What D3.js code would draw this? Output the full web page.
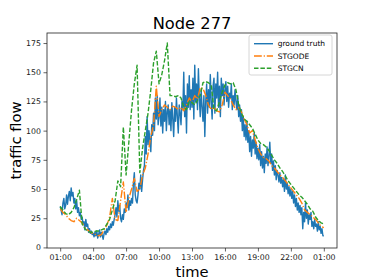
<!DOCTYPE html>
<html>
<head>
<meta charset="utf-8">
<script src="https://cdn.jsdelivr.net/npm/d3@7"></script>
<style>
  body { margin: 0; background: #fff; }
  svg { display: block; font-family: "DejaVu Sans", sans-serif; }
</style>
</head>
<body>
<div id="chart"></div>
<script>
// hours after 01:00, ground truth every 5 min, models every 15 min
var gtStep = 5 / 60, modelStep = 0.25;

var groundTruth = [
  35, 32, 28, 38, 42, 33, 36, 45, 37, 44, 48, 40,
  51, 44, 47, 38, 42, 33, 40, 30, 34, 27, 30, 24,
  26, 20, 22, 15, 24, 18, 20, 13, 16, 12, 14, 11,
  12, 9, 13, 10, 14, 8, 11, 15, 9, 13, 10, 7,
  12, 14, 11, 16, 13, 18, 15, 20, 17, 22, 19, 24,
  28, 34, 26, 40, 31, 36, 25, 22, 28, 24, 33, 30,
  38, 34, 45, 32, 40, 36, 42, 38, 55, 64, 45, 40,
  38, 45, 55, 50, 62, 48, 58, 66, 70, 95, 80, 112,
  88, 100, 92, 82, 105, 96, 115, 100, 128, 110, 130, 105,
  112, 128, 104, 120, 98, 118, 108, 125, 100, 116, 122, 105,
  118, 100, 124, 110, 95, 120, 108, 128, 112, 98, 122, 115,
  105, 125, 118, 150, 112, 130, 98, 140, 120, 147, 118, 135,
  120, 145, 110, 156, 125, 140, 118, 153, 128, 112, 135, 120,
  108, 130, 95, 125, 140, 115, 135, 120, 148, 125, 110, 138,
  145, 115, 140, 128, 150, 120, 138, 112, 145, 130, 140, 122,
  135, 142, 125, 138, 120, 132, 128, 140, 118, 130, 122, 135,
  125, 118, 130, 112, 122, 108, 118, 100, 112, 95, 105, 92,
  108, 90, 100, 82, 95, 78, 92, 85, 98, 80, 90, 76,
  85, 75, 88, 70, 82, 68, 78, 64, 80, 72, 86, 70,
  78, 90, 72, 80, 66, 74, 62, 70, 58, 66, 62, 56,
  64, 55, 60, 52, 58, 48, 62, 50, 55, 46, 52, 44,
  50, 42, 48, 38, 45, 35, 42, 32, 38, 30, 36, 28,
  34, 16, 30, 22, 38, 25, 32, 20, 28, 24, 30, 18,
  22, 16, 24, 18, 20, 14, 22, 15, 18, 12, 16, 10,
  10
];

var stgode = [
  33, 30, 28, 25,
  23, 22, 25, 23,
  21, 17, 15, 13,
  12, 11, 10, 11,
  15, 19, 26, 42,
  24, 23, 40, 56,
  30, 42, 50, 59,
  48, 50, 62, 68,
  80, 95, 105, 138,
  112, 118, 122, 120,
  118, 121, 120, 118,
  120, 117, 122, 128,
  124, 130, 127, 137,
  136, 130, 122, 118,
  120, 117, 116, 122,
  133, 130, 127, 122,
  118, 120, 116, 110,
  105, 98, 100, 92,
  85, 80, 77, 76,
  74, 70, 68, 65,
  62, 60, 57, 54,
  51, 48, 45, 42,
  38, 32, 30, 28,
  26, 24, 21, 18,
  17
];

var stgcn = [
  35, 32, 29, 28,
  30, 34, 41, 49,
  20, 16, 14, 13,
  13, 14, 14, 15,
  16, 20, 24, 32,
  40, 57, 52, 103,
  62, 90, 118, 140,
  156, 64, 85, 100,
  115, 135, 158, 168,
  140, 148, 160, 175,
  130, 130, 129, 130,
  128, 120, 118, 125,
  124, 122, 126, 130,
  141, 142, 141, 139,
  118, 117, 125, 133,
  139, 141, 140, 141,
  135, 122, 115, 110,
  108, 105, 102, 97,
  92, 89, 88, 86,
  83, 79, 75, 72,
  68, 65, 61, 57,
  54, 51, 48, 45,
  43, 40, 37, 33,
  31, 26, 23, 21,
  20
];

var xTicks = [0, 3, 6, 9, 12, 15, 18, 21, 24];
var xTickLabels = ['01:00', '04:00', '07:00', '10:00', '13:00', '16:00', '19:00', '22:00', '01:00'];
var yTicks = [0, 25, 50, 75, 100, 125, 150, 175];

var seriesNames = ['ground truth', 'STGODE', 'STGCN'];
var colors = ['#1f77b4', '#ff7f0e', '#2ca02c'];
var dashes = [null, '7.8,1.9,1.2,1.9', '4.5,1.9'];

var W = 374, H = 280;
var margin = { top: 33, right: 37, bottom: 32, left: 47 };
var width = W - margin.left - margin.right,
    height = H - margin.top - margin.bottom;

var svg = d3.select('#chart').append('svg').attr('width', W).attr('height', H);

var x = d3.scaleLinear().domain([-1.2, 25.2]).range([0, width]);
var y = d3.scaleLinear().domain([-0.5, 183.6]).range([height, 0]);

var g = svg.append('g').attr('transform', 'translate(' + margin.left + ',' + margin.top + ')');

var line = d3.line().x(function (d) { return x(d[0]); }).y(function (d) { return y(d[1]); });

function toPoints(vals, step) {
  return vals.map(function (v, i) { return [i * step, v]; });
}

var allSeries = [toPoints(groundTruth, gtStep), toPoints(stgode, modelStep), toPoints(stgcn, modelStep)];

allSeries.forEach(function (pts, i) {
  g.append('path')
    .datum(pts)
    .attr('d', line)
    .attr('fill', 'none')
    .attr('stroke', colors[i])
    .attr('stroke-width', 1.4)
    .attr('stroke-dasharray', dashes[i])
    .attr('stroke-linejoin', 'round');
});

// axes
var xAxis = d3.axisBottom(x).tickValues(xTicks).tickSize(3.5).tickPadding(2.5)
  .tickFormat(function (d, i) { return xTickLabels[i]; });
var yAxis = d3.axisLeft(y).tickValues(yTicks).tickSize(3.5).tickPadding(2.5);

var gx = g.append('g').attr('transform', 'translate(0,' + height + ')').call(xAxis);
var gy = g.append('g').call(yAxis);

[gx, gy].forEach(function (a) {
  a.select('.domain').remove();
  a.selectAll('line').attr('stroke', '#222').attr('stroke-width', 0.7);
  a.selectAll('text').attr('font-family', '"DejaVu Sans", sans-serif').attr('font-size', 7.8).attr('fill', '#222');
});

g.append('rect')
  .attr('width', width).attr('height', height)
  .attr('fill', 'none').attr('stroke', '#222').attr('stroke-width', 0.8);

// title and labels
svg.append('text')
  .attr('x', margin.left + width / 2).attr('y', 29.3)
  .attr('text-anchor', 'middle').attr('font-size', 16.3).attr('fill', '#000')
  .text('Node 277');

svg.append('text')
  .attr('x', margin.left + width / 2).attr('y', 276.5)
  .attr('text-anchor', 'middle').attr('font-size', 14.7).attr('fill', '#000')
  .text('time');

svg.append('text')
  .attr('transform', 'translate(21,' + (margin.top + height / 2) + ') rotate(-90)')
  .attr('text-anchor', 'middle').attr('font-size', 14.7).attr('fill', '#000')
  .text('traffic flow');

// legend
var lg = svg.append('g').attr('transform', 'translate(249,35)');
lg.append('rect')
  .attr('width', 83).attr('height', 40).attr('rx', 2)
  .attr('fill', '#fff').attr('fill-opacity', 0.8)
  .attr('stroke', '#ccc').attr('stroke-width', 0.8);

seriesNames.forEach(function (name, i) {
  var row = lg.append('g').attr('transform', 'translate(0,' + (8.7 + i * 12.3) + ')');
  row.append('line')
    .attr('x1', 5).attr('x2', 24)
    .attr('stroke', colors[i]).attr('stroke-width', 1.4)
    .attr('stroke-dasharray', dashes[i]);
  row.append('text')
    .attr('x', 28.7).attr('y', 2.7)
    .attr('font-size', 7.5).attr('fill', '#000')
    .text(name);
});
</script>
</body>
</html>
